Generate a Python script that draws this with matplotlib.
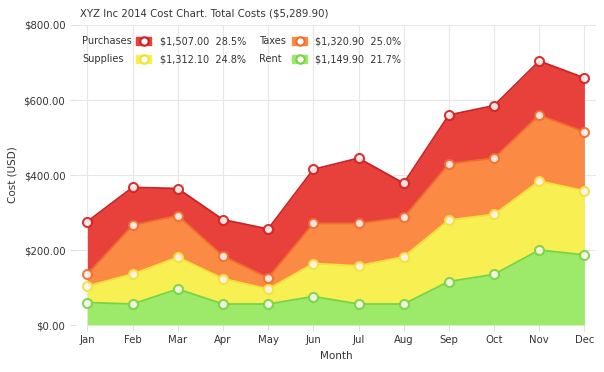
import matplotlib.pyplot as plt
import numpy as np

# data (monthly costs, USD)
months = ['Jan', 'Feb', 'Mar', 'Apr', 'May', 'Jun', 'Jul', 'Aug', 'Sep', 'Oct', 'Nov', 'Dec']
rent = [60, 56, 96, 56, 56, 76, 56, 56, 116, 135, 200, 186.9]
supplies = [44, 80, 85, 68, 40, 88, 102, 126, 164, 160, 184, 171.1]
taxes = [32, 130, 111, 60, 30, 107, 113, 105, 150, 150, 176, 156.9]
purchases = [140, 101, 72, 97, 130, 144, 174, 91, 130, 140, 144, 144]
yticks = [0, 200, 400, 600, 800]

# stacking order bottom -> top
series = [
    ('Rent', rent, '#9dea6a', '#74d445'),
    ('Supplies', supplies, '#f8ef52', '#efe23a'),
    ('Taxes', taxes, '#fb8a45', '#f06e2c'),
    ('Purchases', purchases, '#e8403b', '#cc2222'),
]

plt.rcParams['font.family'] = 'DejaVu Sans'
fig = plt.figure(figsize=(6.04, 3.72), dpi=100)
ax = fig.add_axes([0.1253, 0.1263, 0.8617, 0.8065])

x = np.arange(len(months))
base = np.zeros(len(months))
for name, vals, fill, line in series:
    top = base + np.array(vals)
    ax.fill_between(x, base, top, color=fill, lw=0, zorder=2)
    ax.plot(x, top, color=line, lw=1.3, zorder=3)
    ax.plot(x, top, 'o', ms=6.5, mfc='#fff4f4', mec=line, mew=1.5, alpha=0.9, zorder=4)
    base = top

ax.set_xlim(-0.26, 11.26)
ax.set_ylim(0, 800)
ax.set_xticks(x)
ax.set_xticklabels(months)
ax.set_yticks(yticks)
ax.set_yticklabels(['$%.2f' % v for v in yticks])
ax.grid(True, color='#e6e6e6', lw=0.8, zorder=0)
for s in ax.spines.values():
    s.set_visible(False)
ax.tick_params(length=4, color='#e0e0e0', labelsize=7.3, labelcolor='#333333')
ax.set_xlabel('Month', fontsize=7.5, color='#333333')
ax.set_ylabel('Cost (USD)', fontsize=7.5, color='#333333')

total = sum(purchases) + sum(taxes) + sum(supplies) + sum(rent)
fig.text(80 / 604, 1 - 14 / 372, 'XYZ Inc 2014 Cost Chart. Total Costs (${:,.2f})'.format(total),
         fontsize=7.3, color='#333333', va='center')

# legend drawn by hand, two columns: (name, values, fill, line, label x, marker x, value x, y)
legend = [('Purchases', purchases, '#e8403b', '#cc2222', 82, 144, 160, 41),
          ('Taxes', taxes, '#fb8a45', '#f06e2c', 259, 300, 315, 41),
          ('Supplies', supplies, '#f8ef52', '#efe23a', 82, 144, 160, 59),
          ('Rent', rent, '#9dea6a', '#74d445', 259, 300, 315, 59)]
for name, vals, fill, line, px, mxp, vx, py in legend:
    yy = 1 - py / 372
    fig.text(px / 604, yy, name, fontsize=7, color='#333333', va='center')
    mx = mxp / 604
    fig.patches.append(plt.Rectangle((mx - 8 / 604, yy - 4 / 372), 15 / 604, 8 / 372,
                                     transform=fig.transFigure, color=fill, zorder=5))
    fig.lines.append(plt.Line2D([mx], [yy], marker='o', ms=6, mfc='white', mec=line, mew=1.5,
                                transform=fig.transFigure, zorder=6))
    s = sum(vals)
    fig.text(vx / 604, yy, '${:,.2f}  {:.1f}%'.format(s, s / total * 100),
             fontsize=7, color='#333333', va='center')

fig.savefig('out.png', dpi=100)
